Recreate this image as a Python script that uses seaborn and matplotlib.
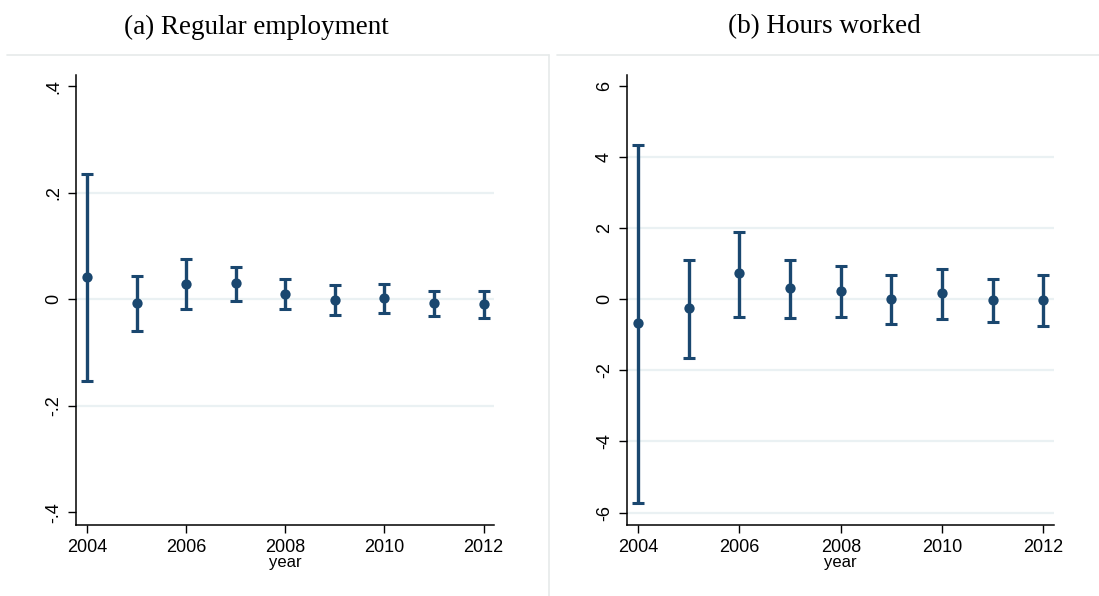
import numpy as np
import pandas as pd
import seaborn as sns
import matplotlib.pyplot as plt
from matplotlib.lines import Line2D

# event-study estimates with 95% CI
years = [2004, 2005, 2006, 2007, 2008, 2009, 2010, 2011, 2012]

emp_coef = [0.041, -0.008, 0.028, 0.031, 0.009, -0.001, 0.002, -0.008, -0.009]
emp_lo = [-0.153, -0.059, -0.019, -0.003, -0.018, -0.029, -0.026, -0.031, -0.035]
emp_hi = [0.235, 0.043, 0.075, 0.060, 0.038, 0.026, 0.028, 0.016, 0.016]

hrs_coef = [-0.68, -0.25, 0.73, 0.31, 0.23, 0.00, 0.17, -0.02, -0.02]
hrs_lo = [-5.73, -1.65, -0.49, -0.52, -0.49, -0.69, -0.55, -0.63, -0.74]
hrs_hi = [4.33, 1.11, 1.90, 1.11, 0.93, 0.69, 0.86, 0.58, 0.69]

emp_ticks = [-0.4, -0.2, 0, 0.2, 0.4]
emp_ticklabels = ["-.4", "-.2", "0", ".2", ".4"]
emp_grid = [-0.2, 0, 0.2]
hrs_ticks = [-6, -4, -2, 0, 2, 4, 6]
hrs_ticklabels = ["-6", "-4", "-2", "0", "2", "4", "6"]
hrs_grid = [-6, -4, -2, 0, 2, 4]
year_ticks = [2004, 2006, 2008, 2010, 2012]

navy = "#1a476f"
gridc = "#eaf1f3"

sns.set_style("white")
plt.rcParams['font.family'] = ['Liberation Sans', 'DejaVu Sans']
plt.rcParams['text.color'] = 'black'
plt.rcParams['axes.labelcolor'] = 'black'
plt.rcParams['xtick.color'] = 'black'
plt.rcParams['ytick.color'] = 'black'

fig = plt.figure(figsize=(10.99, 5.96), dpi=100)
ax1 = fig.add_axes([0.0692, 0.1191, 0.3803, 0.7551])
ax2 = fig.add_axes([0.5705, 0.1191, 0.3886, 0.7551])


def panel(ax, coef, lo, hi, ticks, labels, grid, ylim):
    df = pd.DataFrame({"year": years, "coef": coef, "lo": lo, "hi": hi})
    for g in grid:
        ax.axhline(g, color=gridc, lw=1.6, zorder=0)
    ax.errorbar(df["year"], df["coef"],
                yerr=[df["coef"] - df["lo"], df["hi"] - df["coef"]],
                fmt="none", ecolor=navy, elinewidth=2.4, capsize=4.5,
                capthick=2.2, zorder=2)
    sns.scatterplot(data=df, x="year", y="coef", ax=ax, color=navy, s=55,
                    edgecolor=navy, linewidth=0, zorder=3)
    ax.set_xlim(2003.78, 2012.21)
    ax.set_ylim(*ylim)
    ax.set_xticks(year_ticks)
    ax.set_xticklabels([str(y) for y in year_ticks], fontsize=13)
    ax.set_yticks(ticks)
    ax.set_yticklabels(labels, fontsize=13, rotation=90, va="center")
    ax.set_xlabel("year", fontsize=12, labelpad=-1)
    ax.set_ylabel("")
    ax.tick_params(axis="both", direction="out", length=6, width=1,
                   color="black", labelcolor="black", left=True, bottom=True,
                   pad=4)
    for s in ["top", "right"]:
        ax.spines[s].set_visible(False)
    for s in ["left", "bottom"]:
        ax.spines[s].set_color("black")
        ax.spines[s].set_linewidth(1.1)


panel(ax1, emp_coef, emp_lo, emp_hi, emp_ticks, emp_ticklabels, emp_grid,
      (-0.424, 0.421))
panel(ax2, hrs_coef, hrs_lo, hrs_hi, hrs_ticks, hrs_ticklabels, hrs_grid,
      (-6.35, 6.31))

# panel titles
fig.text(256 / 1099, 1 - 27 / 596, "(a) Regular employment", ha="center",
         va="center", fontsize=19.5, color="black",
         family=["Liberation Serif", "DejaVu Serif"])
fig.text(824 / 1099, 1 - 27 / 596, "(b) Hours worked", ha="center",
         va="center", fontsize=19.5, color="black",
         family=["Liberation Serif", "DejaVu Serif"])

# faint panel frames
framec = "#e6eaea"
fig.add_artist(Line2D([7 / 1099, 549 / 1099], [1 - 55 / 596, 1 - 55 / 596],
                      color=framec, lw=1.2))
fig.add_artist(Line2D([549 / 1099, 549 / 1099], [0, 1 - 55 / 596],
                      color=framec, lw=1.2))
fig.add_artist(Line2D([557 / 1099, 1.0], [1 - 55 / 596, 1 - 55 / 596],
                      color=framec, lw=1.2))

plt.savefig("out.png", dpi=100)
